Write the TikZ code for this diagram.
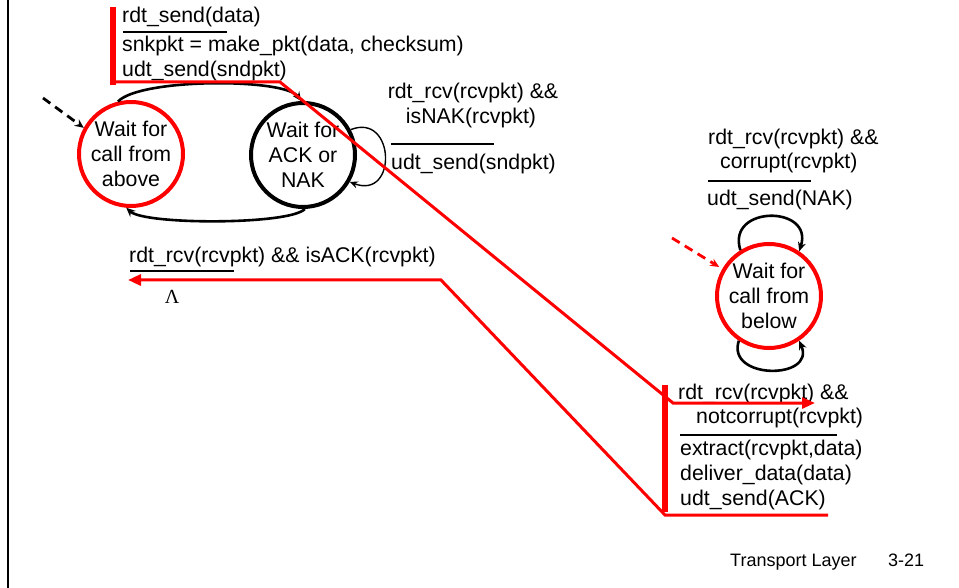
\documentclass[tikz,border=0pt]{standalone}
\usepackage{fontspec}
\setmainfont{Liberation Sans}
\newfontfamily\greekserif{Liberation Serif}
\usetikzlibrary{arrows.meta}
\newcommand\lblfont{\fontsize{21.3}{25}\selectfont}
\newcommand\footfont{\fontsize{18}{22}\selectfont}
\begin{document}
\begin{tikzpicture}[x=1pt,y=-1pt,
  lbl/.style={anchor=base west, inner sep=0pt, font=\lblfont},
  clbl/.style={anchor=base, inner sep=0pt, font=\lblfont},
  state/.style={circle, draw, line width=4pt, minimum size=104pt, inner sep=0pt,
                align=center, font=\lblfont},
  guard/.style={line width=2.8pt},
  trans/.style={line width=2.6pt, -{Stealth[length=9pt,width=8pt]}},
  thinloop/.style={line width=1.4pt, -{Stealth[length=8pt,width=7pt]}},
  init/.style={line width=2.8pt, dashed, dash pattern=on 9pt off 6pt,
               -{Stealth[length=9pt,width=8pt]}},
  hilite/.style={red, line width=3pt},
  hbar/.style={red, line width=6pt},
  redtip/.style={-{Triangle[length=13pt,width=11pt]}}
]
\useasboundingbox (0,0) rectangle (959,588);

% frame edge on the left
\draw[line width=2.5pt] (8,0) -- (8,588);

% sender states
\node[state, draw=red] (s1) at (131,154) {Wait for\\call from\\above};
\node[state, draw=black] (s2) at (303,155) {Wait for\\ACK or\\NAK};

% receiver state
\node[state, draw=red] (r1) at (769,296) {Wait for\\call from\\below};

% sender transitions
\draw[trans] (s1.104) .. controls (140,78) and (285,78) .. (s2.92);
\draw[trans] (s2.272) .. controls (290,225) and (145,225) .. (s1.265);
\draw[thinloop] (s2.28) .. controls (395,112) and (398,200) .. (s2.-30);

% receiver self loops
\draw[trans] (r1.122) .. controls (726,205) and (814,205) .. (r1.56);
\draw[trans] (r1.236) .. controls (726,380) and (816,380) .. (r1.304);

% initial-state markers
\coordinate (i1) at (43,98);
\coordinate (i2) at (672,238);
\draw[init] (i1) -- (s1.151);
\draw[init, red] (i2) -- ([shift={(-3,-2)}]r1.150);

% sender: rdt_send label
\node[lbl] (t1) at (122,23) {rdt\_send(data)};
\draw[guard] (123,32) -- (227,32);
\node[lbl] (t2) at (122,52) {snkpkt = make\_pkt(data, checksum)};
\node[lbl] (t3) at (122,77) {udt\_send(sndpkt)};

% sender: NAK loop label
\node[clbl] (n1) at (473,99) {rdt\_rcv(rcvpkt) \&\&};
\node[clbl] (n2) at (471,124) {isNAK(rcvpkt)};
\draw[guard] (391,144) -- (494,144);
\node[lbl] (n3) at (391,170) {udt\_send(sndpkt)};

% sender: ACK label
\node[lbl] (k1) at (129,262) {rdt\_rcv(rcvpkt) \&\& isACK(rcvpkt)};
\draw[guard] (130,271) -- (234,271);
\node[inner sep=0pt, font=\greekserif\fontsize{20}{22}\selectfont] (k2) at (172,297) {Λ};

% receiver: corrupt label
\node[lbl] (c1) at (708,145) {rdt\_rcv(rcvpkt) \&\&};
\node[lbl] (c2) at (720,169) {corrupt(rcvpkt)};
\draw[guard] (708,181) -- (811,181);
\node[lbl] (c3) at (707,206) {udt\_send(NAK)};

% receiver: notcorrupt label
\node[lbl] (d1) at (678,399) {rdt\_rcv(rcvpkt) \&\&};
\node[lbl] (d2) at (696,423) {notcorrupt(rcvpkt)};
\draw[guard] (680,435) -- (837,435);
\node[lbl] (d3) at (680,455) {extract(rcvpkt,data)};
\node[lbl] (d4) at (680,480) {deliver\_data(data)};
\node[lbl] (d5) at (680,505) {udt\_send(ACK)};

% highlighted packet path: data out
\coordinate (a0) at (113,7);
\coordinate (a1) at (113,85);
\coordinate (a2) at (280,82);
\coordinate (a3) at (673,403);
\coordinate (a4) at (815,403);
\draw[hbar] (a0) -- (a1);
\draw[hilite, redtip] (113,82) -- (a2) -- (a3) -- (a4);

% highlighted packet path: ACK back
\coordinate (b0) at (665,385);
\coordinate (b1) at (665,512);
\coordinate (b2) at (828,515);
\coordinate (b3) at (665,515);
\coordinate (b4) at (441,280);
\coordinate (b5) at (128,280);
\draw[hbar] (b0) -- (b1);
\draw[hilite, redtip] (b2) -- (b3) -- (b4) -- (b5);

% footer
\node[anchor=base west, inner sep=0pt, font=\footfont] (f1) at (730,566) {Transport Layer};
\node[anchor=base west, inner sep=0pt, font=\footfont] (f2) at (888,566) {3-21};
\end{tikzpicture}
\end{document}
